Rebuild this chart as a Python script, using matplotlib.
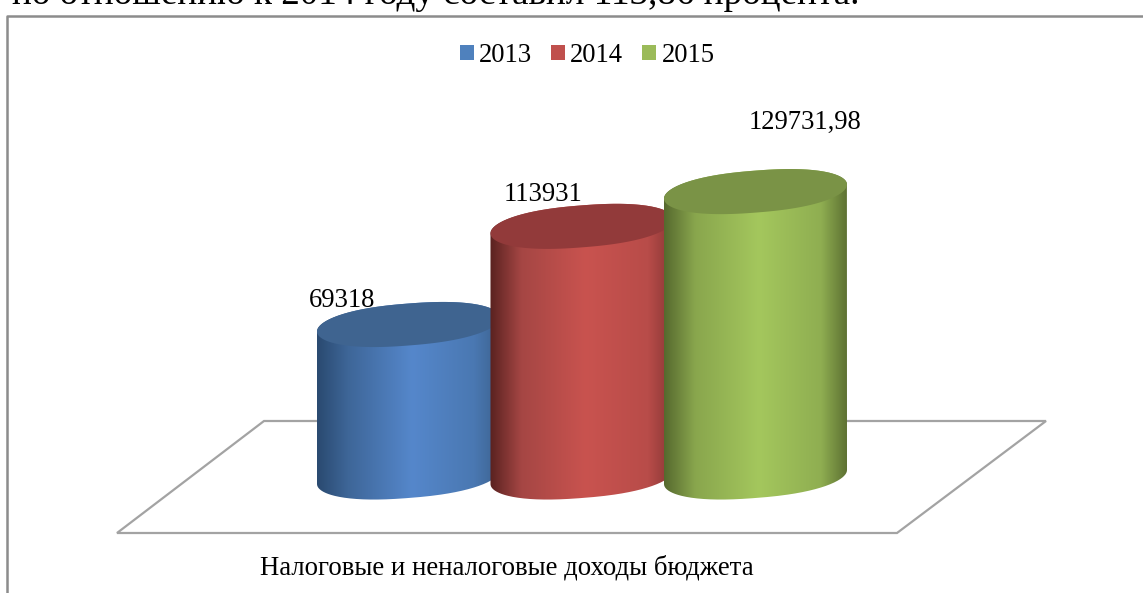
import numpy as np
import matplotlib
matplotlib.use("Agg")
import matplotlib.pyplot as plt
from matplotlib.colors import LinearSegmentedColormap
from matplotlib.patches import Patch, Polygon
from matplotlib.path import Path
from matplotlib.lines import Line2D

plt.rcParams['font.family'] = ['Liberation Serif', 'DejaVu Serif']

years = ['2013', '2014', '2015']
values = [69318, 113931, 129731.98]
value_labels = ['69318', '113931', '129731,98']
category = 'Налоговые и неналоговые доходы бюджета'
header = 'по отношению к 2014 году составил 113,86 процента.'

legend_colors = ['#4F81BD', '#C0504D', '#9BBB59']
top_colors = ['#3F6490', '#923A3A', '#7A9346']
ramps = [
    ['#2A4A70', '#3E6698', '#5587CB', '#4A78B2', '#3C628F'],
    ['#5A2220', '#A54644', '#C9534F', '#B84C49', '#873634'],
    ['#56692E', '#89A64D', '#A4C75D', '#8FAE51', '#5E7233'],
]
ramp_stops = [0.0, 0.17, 0.52, 0.86, 1.0]

W, H = 1143, 593
DPI = 100
VALUE_PER_PX = 1 / 0.0022
BASE_PX = 477
X0_PX, DX_PX = 408.5, 173.5
A_PX, B_PX, TILT_PX = 91.5, 21.0, 7.0
ROUND = 0.85

fig = plt.figure(figsize=(W / DPI, H / DPI), dpi=DPI, facecolor='white')
ax = fig.add_axes([0, 0, 1, 1])
ax.set_xlim((0 - X0_PX) / DX_PX, (W - X0_PX) / DX_PX)
ax.set_ylim((BASE_PX - H) * VALUE_PER_PX, BASE_PX * VALUE_PER_PX)
ax.axis('off')


def xpx(p):
    return (np.asarray(p, dtype=float) - X0_PX) / DX_PX


def ypx(p):
    return (BASE_PX - np.asarray(p, dtype=float)) * VALUE_PER_PX


def rim(tt, xc, yc):
    """Points of a tilted, slightly squared-off ellipse around (xc, yc)."""
    c = np.sign(np.cos(tt)) * np.abs(np.cos(tt)) ** ROUND
    s = np.sin(tt)
    return xc + a * c, yc + tilt * c + b * s


# frame and floor, placed in figure pixels
GRAY = '#8C8C8C'
ax.add_line(Line2D(xpx([7, 7, W]), ypx([H, 16, 16]), color=GRAY, lw=1.8, zorder=1))
floor = Polygon(np.column_stack([xpx([117, 264, 1046, 897]), ypx([533, 421, 421, 533])]),
                closed=True, fc='white', ec='#A3A3A3', lw=1.6, zorder=1)
ax.add_patch(floor)

a = A_PX / DX_PX
b = B_PX * VALUE_PER_PX
tilt = TILT_PX * VALUE_PER_PX
t = np.linspace(0, 2 * np.pi, 361)

for i, (v, ramp, top) in enumerate(zip(values, ramps, top_colors)):
    z = 3 + i
    # body silhouette: lower arc, then upper arc of the top rim
    bx, by = rim(np.linspace(np.pi, 2 * np.pi, 181), i, 0)
    ux, uy = rim(np.linspace(0, np.pi, 181), i, v)
    verts = np.vstack([np.column_stack([bx, by]), np.column_stack([ux, uy]), [[bx[0], by[0]]]])
    cmap = LinearSegmentedColormap.from_list(f'c{i}', list(zip(ramp_stops, ramp)))
    im = ax.imshow(np.linspace(0, 1, 256).reshape(1, -1), cmap=cmap, aspect='auto',
                   extent=[i - a, i + a, -3 * b, v + 3 * b], zorder=z, interpolation='bilinear')
    im.set_clip_path(Path(verts), transform=ax.transData)
    ex, ey = rim(t, i, v)
    ax.fill(ex, ey, color=top, lw=0, zorder=z + 0.5)

ax.set_xlim((0 - X0_PX) / DX_PX, (W - X0_PX) / DX_PX)
ax.set_ylim((BASE_PX - H) * VALUE_PER_PX, BASE_PX * VALUE_PER_PX)

# data labels, centred in pixels
label_x = [342.5, 543.5, 805.5]
label_base = [307, 201, 129]
for lab, lx, ly in zip(value_labels, label_x, label_base):
    ax.text(xpx(lx), ypx(ly), lab, ha='center', va='baseline', fontsize=19.2, color='black', zorder=10)

ax.text(xpx(506.5), ypx(574), category, ha='center', va='baseline', fontsize=19.3, color='black', zorder=10)
ax.text(xpx(12), ypx(4), header, ha='left', va='baseline', fontsize=26.7, color='black', zorder=10)

handles = [Patch(facecolor=c, edgecolor='none', label=y) for c, y in zip(legend_colors, years)]
ax.legend(handles=handles, ncol=3, frameon=False, fontsize=19.2,
          loc='center', bbox_to_anchor=(587 / W, 1 - 55.5 / H),
          handlelength=0.53, handleheight=0.53, handletextpad=0.2, columnspacing=0.7,
          borderpad=0, borderaxespad=0)

fig.savefig('out.png', dpi=DPI, facecolor='white')
